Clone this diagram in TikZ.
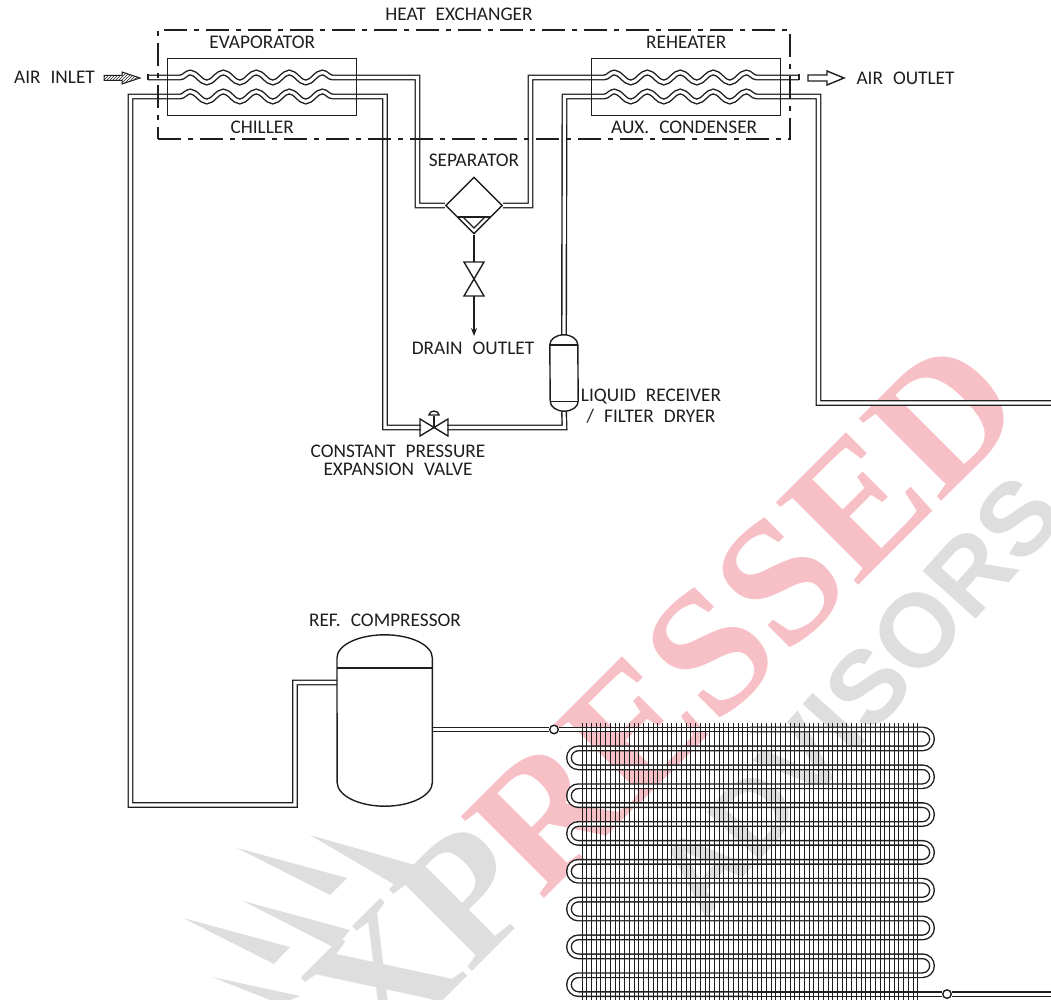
\documentclass[tikz,border=0pt]{standalone}
\usepackage{fontspec}
\setmainfont{Carlito}
\newfontfamily\markserif{Liberation Serif}
\newfontfamily\marksans{Liberation Sans}
\usetikzlibrary{arrows.meta, positioning, shapes.geometric, calc, decorations.pathmorphing, patterns}
\definecolor{markred}{RGB}{247,192,198}
\definecolor{markgray}{RGB}{222,222,222}
\definecolor{inkline}{RGB}{30,30,30}
\newcommand{\wgap}{\hspace{10pt}}

\begin{document}
\begin{tikzpicture}[
  x=1pt, y=-1pt,
  lbl/.style={inner sep=0pt, text=inkline, align=center, font=\fontsize{19.3}{18}\selectfont},
  line/.style={draw=inkline, line width=1.4pt},
  pipe/.style={draw=inkline, double=white, double distance=3.1pt, line width=1.4pt, line join=miter},
  coil/.style={decorate, decoration={snake, amplitude=5pt, segment length=33pt}},
  block/.style={line, rectangle, inner sep=0pt, minimum width=189pt, minimum height=57pt},
  tank/.style={inner sep=0pt},
  joint/.style={line, circle, fill=white, inner sep=0pt, minimum size=8.5pt},
  arr/.style={line, -{Stealth[length=8pt, width=6pt]}},
  hxline/.style={draw=inkline, line width=1.3pt, dash pattern=on 23pt off 7pt on 5pt off 7pt}
]
\useasboundingbox (0,0) rectangle (1051,1000);
\clip (0,0) rectangle (1051,1000);

% Watermark
\node[inner sep=0pt, rotate=45, text=markgray, font=\fontsize{178}{178}\markserif\bfseries] (markexp) at (379,982) {EXP};
\node[inner sep=0pt, rotate=48, text=markgray, font=\fontsize{104}{104}\marksans\bfseries] (markadv) at (860,695) {ADVISORS};
\node[inner sep=0pt, rotate=45, text=markred, font=\fontsize{178}{178}\markserif\bfseries] (markres) at (745,616) {RESSED};
\fill[markgray] (237,848) -- (347,878) -- (330,895) -- cycle;
\fill[markgray] (310,835) -- (415,865) -- (395,885) -- cycle;
\fill[markgray] (243,901) -- (350,930) -- (335,948) -- cycle;
\fill[markgray] (183,918) -- (290,947) -- (274,964) -- cycle;
\fill[markgray] (212,977) -- (300,996) -- (290,1000) -- (270,1000) -- cycle;

\node[line, diamond, aspect=1, inner sep=0pt, minimum width=57pt, minimum height=57pt] (sep) at (474,205.5) {};
\node[tank, minimum width=28pt, minimum height=76pt] (recv) at (564,373) {};
\node[tank, minimum width=95pt, minimum height=171pt] (comp) at (384.7,720.5) {};
\node[joint] (condin) at (554,729.5) {};
\node[joint] (condout) at (947,994.1) {};

\coordinate (inletstub) at (148,77.5);
\coordinate (outletstub) at (799,77.5);
\coordinate (evapin) at (180,77.5);
\coordinate (evapout) at (345,77.5);
\coordinate (chillin) at (180,96.5);
\coordinate (chillout) at (345,96.5);
\coordinate (reheatin) at (604,77.5);
\coordinate (reheatout) at (769,77.5);
\coordinate (auxin) at (604,96.5);
\coordinate (auxout) at (769,96.5);
\coordinate (compin) at (comp.west |- 0,682.5);
\coordinate (compout) at (comp.east |- 0,729.5);
\coordinate (expval) at (434,427.5);
\coordinate (drainval) at (474,279);
\coordinate (drainend) at (474,336);
\coordinate (exitright) at (1051,403);
\coordinate (exitlow) at (1051,994.1);

% Condenser
\draw[pipe] (condin) -- (750,729.5);
\foreach \k in {0,2,...,12}
  \draw[pipe, rounded corners=9.4pt] (750,{729.5+18.9*\k}) -- (932,{729.5+18.9*\k})
    -- (932,{729.5+18.9*(\k+1)}) -- (569,{729.5+18.9*(\k+1)})
    -- (569,{729.5+18.9*(\k+2)}) -- (750,{729.5+18.9*(\k+2)});
\draw[pipe] (750,994.1) -- (condout);
\foreach \x in {0,1,...,71}
  \draw[draw=inkline, line width=0.9pt] ({582+4.73*\x},722.5) -- ({582+4.73*\x},1000);
\draw[pipe] (condout) -- (exitlow);
\draw[pipe] (compout) -- (condin);

% Pipes
\draw[pipe] (inletstub) -- (evapin) decorate[coil] {-- (evapout)} -- (417.5,77.5) -- (417.5,205.5) -- (sep.west);
\draw[pipe] (compin) -- (295,682.5) -- (295,805) -- (130.5,805) -- (130.5,96.5) -- (chillin)
  decorate[coil] {-- (chillout)} -- (385,96.5) -- (385,427.5) -- (421,427.5);
\draw[pipe] (447,427.5) -- (564.5,427.5) -- (recv.south);
\draw[pipe] (recv.north) -- (564.5,96.5) -- (auxin) decorate[coil] {-- (auxout)}
  -- (818.5,96.5) -- (818.5,403) -- (exitright);
\draw[pipe] (sep.east) -- (530.5,205.5) -- (530.5,77.5) -- (reheatin) decorate[coil] {-- (reheatout)} -- (outletstub);
\draw[line] ($(inletstub)+(0,-3)$) -- ($(inletstub)+(0,3)$);
\draw[line] ($(outletstub)+(0,-3)$) -- ($(outletstub)+(0,3)$);

\node[block] (evap) at (262.2,87.3) {};
\node[block] (reheat) at (686.2,87.3) {};
\node[hxline, rectangle, inner sep=0pt, minimum width=632pt, minimum height=109pt] (hx) at (474,84.5) {};

% Separator and drain
\draw[line] (458,217) -- (490,217);
\draw[line] (463,217) -- (474,228) -- (485,217);
\draw[line] (sep.south) -- ($(drainval)+(0,-17)$);
\draw[line] (drainval) -- ++(-10,-17) -- ++(20,0) -- cycle;
\draw[line] (drainval) -- ++(-10,17) -- ++(20,0) -- cycle;
\draw[arr] ($(drainval)+(0,17)$) -- (drainend);

% Expansion valve
\draw[line] (expval) -- ++(-14,-8.5) -- ++(0,17) -- cycle;
\draw[line] (expval) -- ++(14,-8.5) -- ++(0,17) -- cycle;
\draw[line] (expval) -- ++(0,-12);
\draw[line] ($(expval)+(-5,-12.5)$) arc[start angle=180, end angle=360, x radius=5, y radius=4] -- cycle;

% Tanks
\draw[line] ($(recv.north west)+(0,10)$) arc[start angle=180, end angle=360, x radius=14, y radius=10]
  -- ($(recv.south east)+(0,-10)$) arc[start angle=0, end angle=180, x radius=14, y radius=10] -- cycle;
\draw[line] ($(recv.north west)+(0,10)$) -- ($(recv.north east)+(0,10)$);
\draw[line] ($(recv.south west)+(0,-10)$) -- ($(recv.south east)+(0,-10)$);
\draw[line] ($(comp.north west)+(0,23)$) arc[start angle=180, end angle=360, x radius=47.65, y radius=23]
  -- ($(comp.south east)+(0,-24)$) arc[start angle=0, end angle=180, x radius=47.65, y radius=24] -- cycle;
\draw[line] ($(comp.north west)+(0,33)$) -- ($(comp.north east)+(0,33)$);

% Air arrows
\coordinate (inarrow) at (104,78);
\coordinate (outarrow) at (808,78);
\draw[line, line width=1pt, pattern=north east lines, pattern color=inkline] (inarrow) -- ++(0,-2.5) -- ++(18,0) -- ++(0,-3.5) -- (140,78) -- (122,84) -- ++(0,-3.5) -- ++(-18,0) -- cycle;
\draw[line] (outarrow) -- ++(0,-3) -- ++(19,0) -- ++(0,-4) -- (844,78) -- (827,85) -- ++(0,-4) -- ++(-19,0) -- cycle;

% Labels
\node[lbl] (hxlabel) at (459,14) {HEAT\wgap EXCHANGER};
\node[lbl, above=9.5pt of evap] (evaplabel) {EVAPORATOR};
\node[lbl, below=4.5pt of evap] (chilllabel) {CHILLER};
\node[lbl, above=9.5pt of reheat] (reheatlabel) {REHEATER};
\node[lbl, below=4.5pt of reheat, xshift=-2pt] (auxlabel) {AUX.\wgap CONDENSER};
\node[lbl, above=9pt of sep] (seplabel) {SEPARATOR};
\node[lbl] (inletlabel) at (54.5,77) {AIR\wgap INLET};
\node[lbl] (outletlabel) at (905.5,78) {AIR\wgap OUTLET};
\node[lbl] (drainlabel) at (473,348) {DRAIN\wgap OUTLET};
\node[lbl] (recvlabel) at (651,406.5) {LIQUID\wgap RECEIVER\\[3pt]/\wgap FILTER\wgap DRYER};
\node[lbl] (vallabel) at (398,460) {CONSTANT\wgap PRESSURE\\EXPANSION\wgap VALVE};
\node[lbl] (complabel) at (385,620) {REF.\wgap COMPRESSOR};
\end{tikzpicture}
\end{document}
